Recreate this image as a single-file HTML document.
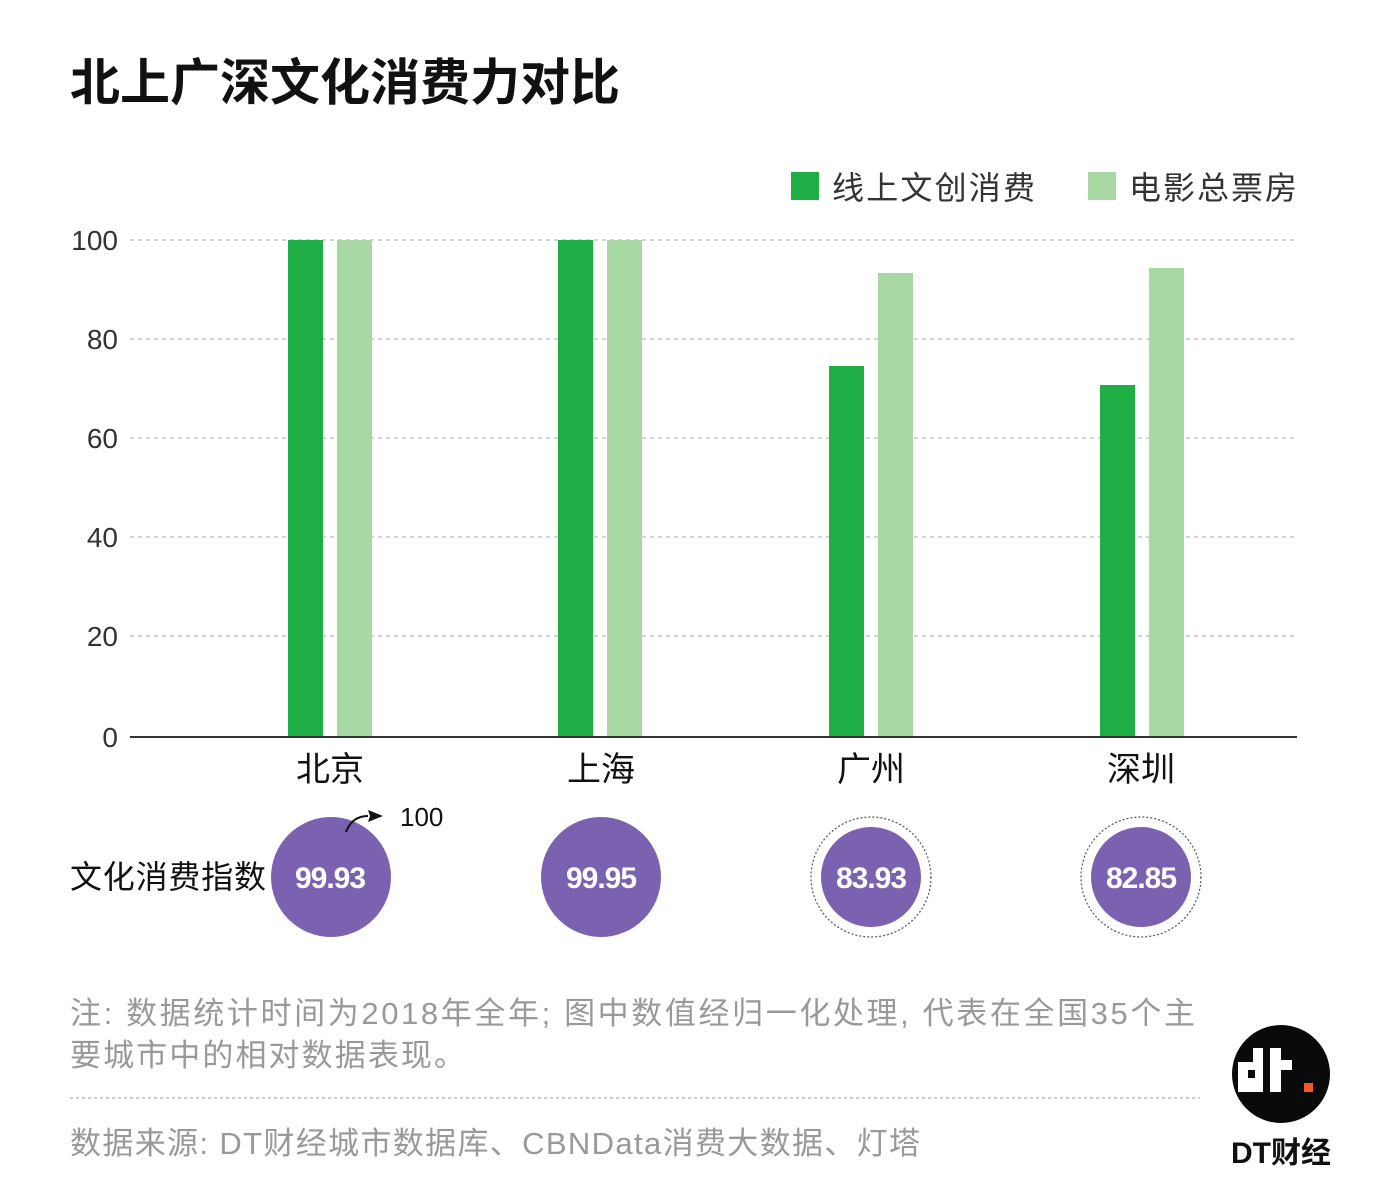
<!DOCTYPE html>
<html><head><meta charset="utf-8"><style>
body{margin:0;background:#fff;}
svg{display:block;font-family:"Liberation Sans","Noto Sans CJK SC",sans-serif;}
</style></head><body>
<svg width="1399" height="1196" viewBox="0 0 1399 1196">
<text x="70" y="100" font-size="50" font-weight="bold" fill="#111">北上广深文化消费力对比</text>
<rect x="791" y="172" width="28" height="28" fill="#1fae45"/>
<text x="832" y="199" font-size="32" fill="#333" textLength="203">线上文创消费</text>
<rect x="1088" y="172" width="28" height="28" fill="#a8d9a5"/>
<text x="1129" y="199" font-size="32" fill="#333" textLength="168">电影总票房</text>
<g stroke="#bbb" stroke-dasharray="4,4" stroke-width="1.2">
<line x1="130" y1="240" x2="1297" y2="240"/>
<line x1="130" y1="339" x2="1297" y2="339"/>
<line x1="130" y1="438" x2="1297" y2="438"/>
<line x1="130" y1="537" x2="1297" y2="537"/>
<line x1="130" y1="636" x2="1297" y2="636"/>
</g>
<g font-size="28" fill="#333" text-anchor="end">
<text x="118" y="250">100</text><text x="118" y="349">80</text><text x="118" y="448">60</text>
<text x="118" y="547">40</text><text x="118" y="646">20</text><text x="118" y="747">0</text>
</g>
<g fill="#1fae45">
<rect x="288" y="240" width="35" height="497"/>
<rect x="558" y="240" width="35" height="497"/>
<rect x="829" y="366" width="35" height="371"/>
<rect x="1100" y="385" width="35" height="352"/>
</g>
<g fill="#a8d9a5">
<rect x="337" y="240" width="35" height="497"/>
<rect x="607" y="240" width="35" height="497"/>
<rect x="878" y="273" width="35" height="464"/>
<rect x="1149" y="268" width="35" height="469"/>
</g>
<line x1="130" y1="737" x2="1297" y2="737" stroke="#333" stroke-width="2"/>
<g font-size="34" fill="#111" text-anchor="middle">
<text x="330" y="781">北京</text><text x="601" y="781">上海</text>
<text x="871" y="781">广州</text><text x="1141" y="781">深圳</text>
</g>
<text x="70" y="888" font-size="32" fill="#111" textLength="196">文化消费指数</text>
<g fill="#7b62b0">
<circle cx="331" cy="877" r="60"/>
<circle cx="601" cy="877" r="60"/>
<circle cx="871" cy="877" r="50"/>
<circle cx="1141" cy="877" r="50"/>
</g>
<g fill="none" stroke="#555" stroke-dasharray="2,2" stroke-width="1.2">
<circle cx="871" cy="877" r="60"/><circle cx="1141" cy="877" r="60"/>
</g>
<path d="M346 832 Q352 816 368 816" fill="none" stroke="#111" stroke-width="2"/>
<path d="M383 816 L368 810 L370 816 L368 822 Z" fill="#111"/>
<text x="400" y="826" font-size="26" fill="#111">100</text>
<g font-size="30" font-weight="bold" fill="#fff" text-anchor="middle" letter-spacing="-1">
<text x="330" y="888">99.93</text><text x="601" y="888">99.95</text>
<text x="871" y="888">83.93</text><text x="1141" y="888">82.85</text>
</g>
<text x="70" y="1024" font-size="31" fill="#999" textLength="1125">注: 数据统计时间为2018年全年; 图中数值经归一化处理, 代表在全国35个主</text>
<text x="70" y="1066" font-size="31" fill="#999" textLength="395">要城市中的相对数据表现。</text>
<line x1="70" y1="1098" x2="1200" y2="1098" stroke="#aaa" stroke-dasharray="3,3" stroke-width="1.2"/>
<text x="70" y="1154" font-size="31" fill="#999" textLength="850">数据来源: DT财经城市数据库、CBNData消费大数据、灯塔</text>
<circle cx="1281" cy="1074" r="49" fill="#0a0a0a"/>
<g fill="#fff">
<rect x="1253" y="1048" width="10" height="44"/>
<rect x="1238" y="1062" width="25" height="30"/>
<rect x="1270" y="1048" width="11" height="44"/>
<rect x="1270" y="1060" width="22" height="10"/>
</g>
<rect x="1248" y="1070" width="7" height="8" fill="#0a0a0a"/>
<rect x="1304" y="1083" width="9" height="9" fill="#f05a28"/>
<text x="1281" y="1163" font-size="30" font-weight="bold" fill="#111" text-anchor="middle">DT财经</text>
</svg>
</body></html>
